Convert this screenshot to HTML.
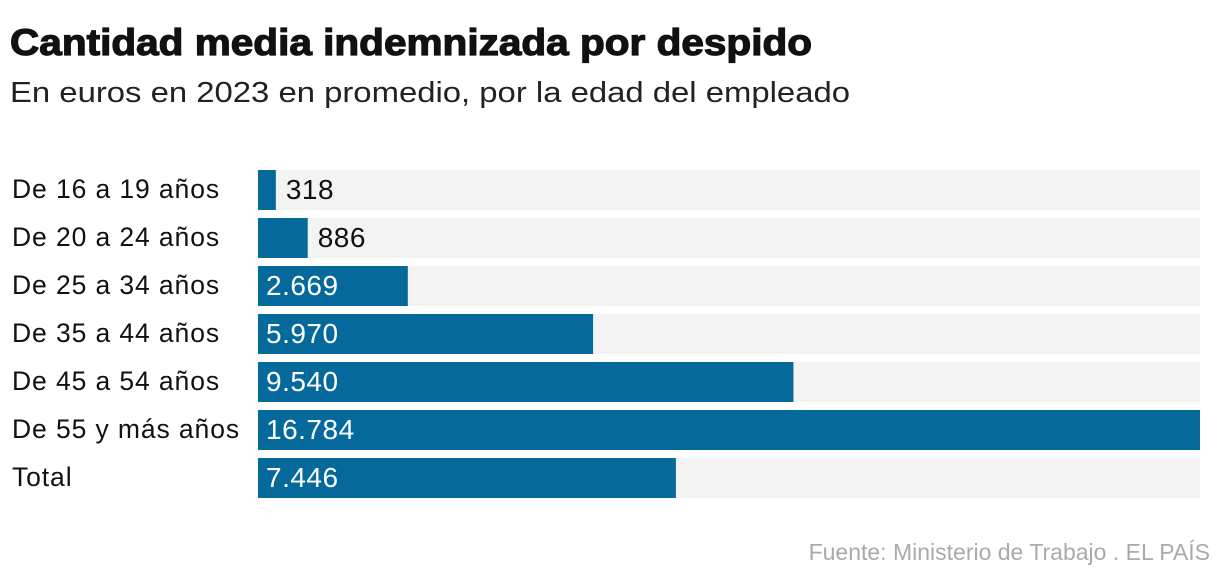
<!DOCTYPE html>
<html><head><meta charset="utf-8"><style>
html,body{margin:0;padding:0;background:#fff;}
svg{display:block;font-family:"Liberation Sans",sans-serif;}
</style></head><body>
<svg id="chart" width="1220" height="582" viewBox="0 0 1220 582">
<text x="10" y="55" font-size="37" font-weight="bold" fill="#111" stroke="#111" stroke-width="1.2" textLength="802" lengthAdjust="spacingAndGlyphs">Cantidad media indemnizada por despido</text>
<text x="10" y="102" font-size="29" fill="#222" textLength="840" lengthAdjust="spacingAndGlyphs">En euros en 2023 en promedio, por la edad del empleado</text>
<g id="bars"></g>
<text x="1210" y="560" font-size="23" fill="#aaa" text-anchor="end">Fuente: Ministerio de Trabajo . EL PAÍS</text>
</svg>
<script>
const categories = ["De 16 a 19 años","De 20 a 24 años","De 25 a 34 años","De 35 a 44 años","De 45 a 54 años","De 55 y más años","Total"];
const values = [318, 886, 2669, 5970, 9540, 16784, 7446];
const valueLabels = ["318","886","2.669","5.970","9.540","16.784","7.446"];
const NS = "http://www.w3.org/2000/svg";
const x0 = 258, x1 = 1200, top0 = 170, step = 48, bh = 40;
const maxV = Math.max(...values);
const xScale = v => x0 + (v / maxV) * (x1 - x0);
const yScale = i => top0 + i * step;
const g = document.getElementById('bars');
function mk(tag, attrs){const e=document.createElementNS(NS,tag);for(const k in attrs)e.setAttribute(k,attrs[k]);return e;}
categories.forEach((c,i)=>{
  const y = yScale(i);
  const bg = mk('rect',{x:x0,y:y,width:x1-x0,height:bh,fill:'#f3f3f3'});
  
  
  g.appendChild(bg);
  const w = xScale(values[i]) - x0;
  const r = mk('rect',{x:x0,y:y,width:w,height:bh,fill:'#06699b'});
  
  
  g.appendChild(r);
  const lab = mk('text',{x:12,y:y+bh/2+8,'font-size':26.5,'letter-spacing':0.9,fill:'#111'});
  lab.textContent = c;
  
  
  g.appendChild(lab);
  const inside = w > 90;
  const vl = mk('text',{x: inside ? x0+8 : x0+w+10, y:y+bh/2+9,'font-size':28,'letter-spacing':0.5,fill: inside ? '#fff' : '#111'});
  vl.textContent = valueLabels[i];
  
  
  g.appendChild(vl);
});
</script>
</body></html>
